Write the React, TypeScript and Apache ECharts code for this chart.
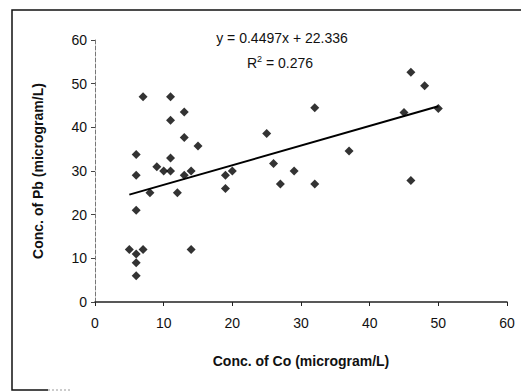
import React, { useEffect, useRef } from "react";
import * as echarts from "echarts";

const coX: number[] = [7, 11, 13, 11, 13, 15, 6, 11, 9, 10, 11, 6, 13, 14, 8, 12, 6, 5, 7, 6, 6, 6, 14, 19, 20, 19, 25, 26, 27, 29, 32, 32, 37, 46, 48, 45, 50, 46];
const pbY: number[] = [47, 47, 43.5, 41.6, 37.7, 35.7, 33.8, 33, 31, 30, 30, 29, 29, 30, 25, 25, 21, 12, 12, 11, 9, 6, 12, 29, 30, 26, 38.6, 31.7, 27, 30, 44.5, 27, 34.6, 52.6, 49.5, 43.4, 44.3, 27.8];
const slope = 0.4497;
const intercept = 22.336;
const equationText = "y = 0.4497x + 22.336";
const r2Text = "R{sup|2} = 0.276";
const xTitle = "Conc. of Co (microgram/L)";
const yTitle = "Conc. of Pb (microgram/L)";

export default function App() {
  const ref = useRef<HTMLDivElement>(null);
  useEffect(() => {
    if (!ref.current) return;
    const chart = echarts.init(ref.current, undefined, { renderer: "svg" });
    const pts = coX.map((x, i) => [x, pbY[i]]);
    const xMin = Math.min(...coX);
    const xMax = Math.max(...coX);
    const trend = [
      [xMin, slope * xMin + intercept],
      [xMax, slope * xMax + intercept],
    ];
    const font = "'Liberation Sans', Arial, sans-serif";
    chart.setOption({
      animation: false,
      backgroundColor: "#fff",
      grid: { left: 95, right: 14, top: 40, bottom: 90 },
      xAxis: {
        type: "value",
        min: 0,
        max: 60,
        interval: 10,
        name: xTitle,
        nameLocation: "middle",
        nameGap: 52,
        nameTextStyle: { fontFamily: font, fontSize: 14, fontWeight: "bold", color: "#111" },
        axisLine: { show: true, onZero: false, lineStyle: { color: "#222", width: 1.5 } },
        axisTick: { show: true, inside: false, length: 4, lineStyle: { color: "#222" } },
        axisLabel: { fontFamily: font, fontSize: 14, color: "#111", margin: 14 },
        splitLine: { show: false },
      },
      yAxis: {
        type: "value",
        min: 0,
        max: 60,
        interval: 10,
        name: yTitle,
        nameLocation: "middle",
        nameGap: 50,
        nameTextStyle: { fontFamily: font, fontSize: 14, fontWeight: "bold", color: "#111" },
        axisLine: { show: true, lineStyle: { color: "#777", width: 1, type: "dashed" } },
        axisTick: { show: true, inside: false, length: 4, lineStyle: { color: "#444" } },
        axisLabel: { fontFamily: font, fontSize: 14, color: "#111", margin: 8 },
        splitLine: { show: false },
      },
      graphic: [
        {
          type: "polyline",
          shape: { points: [[530, 10], [12, 10], [12, 390], [48, 390]] },
          style: { fill: "none", stroke: "#111", lineWidth: 1.5 },
          silent: true,
        },
        {
          type: "line",
          shape: { x1: 48, y1: 390, x2: 70, y2: 390 },
          style: { stroke: "#999", lineWidth: 1, lineDash: [2, 2] },
          silent: true,
        },
        {
          type: "text",
          x: 282,
          y: 38,
          style: {
            text: equationText,
            font: `14px ${font}`,
            fill: "#111",
            align: "center",
            verticalAlign: "middle",
          },
        },
        {
          type: "text",
          x: 280,
          y: 63,
          style: {
            text: r2Text,
            font: `14px ${font}`,
            fill: "#111",
            align: "center",
            verticalAlign: "middle",
            rich: {
              sup: { fontSize: 9, verticalAlign: "top", padding: [0, 0, 8, 0], fontFamily: font, fill: "#111" },
            },
          },
        },
      ],
      series: [
        {
          type: "line",
          data: trend,
          symbol: "none",
          lineStyle: { color: "#000", width: 2 },
          z: 2,
        },
        {
          type: "scatter",
          data: pts,
          symbol: "diamond",
          symbolSize: 9,
          itemStyle: { color: "#000" },
          z: 3,
        },
      ],
    });
    return () => chart.dispose();
  }, []);
  return (
    <div
      ref={ref}
      style={{ position: "fixed", left: 0, top: 0, width: 521, height: 392 }}
    />
  );
}
